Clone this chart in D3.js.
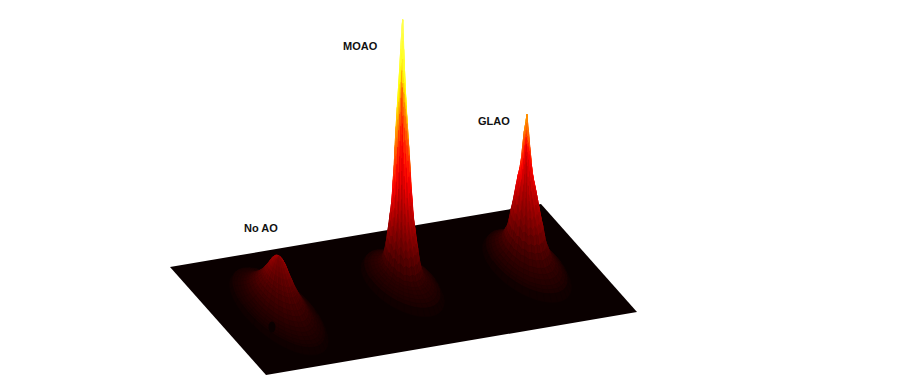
<!DOCTYPE html>
<meta charset="utf-8">
<style>
body {
  margin: 0;
  background: #fff;
}
html {
  overflow: hidden;
}
text.label {
  font-family: "Liberation Sans", Arial, sans-serif;
  font-size: 11px;
  font-weight: bold;
  fill: #111;
}
</style>
<body>
<script src="https://cdn.jsdelivr.net/npm/d3@7"></script>
<script>
// peak names and where they sit on the floor
var peakNames = ["No AO", "MOAO", "GLAO"];
var peakX = [92, 292, 480];
var peakY = [66, 59, 63];
var peakDepth = [1, 0.78, 0.82];
var peakRidge = [0, 1, 0.7];
var labelX = [244, 343, 478];
var labelY = [232, 50, 125];

// radial profiles: radius, height
var noAoRadius = [0, 2, 4, 7, 9, 11, 14, 16, 18, 21, 24, 27, 30, 33, 36, 39, 42, 45, 47, 50];
var noAoHeight = [56, 55.5, 54, 50, 46, 42, 37, 33, 30, 26, 22, 19, 16, 13, 11, 9, 7.5, 6, 5, 0];
var moaoRadius = [0, 1.2, 2.2, 3.4, 4.8, 6.2, 7.6, 8.8, 9.8, 11, 12, 13, 14.5, 16, 17.5, 19, 21, 23, 26, 29, 33, 37, 40, 44, 48];
var moaoHeight = [265, 250, 235, 215, 195, 175, 155, 135, 115, 100, 85, 75, 65, 54, 45, 35, 26, 20, 16, 14, 12, 10, 8, 6, 0];
var glaoRadius = [0, 1.2, 3, 4.8, 6, 8, 10, 12, 14, 16, 18, 20, 22, 25, 28, 32, 36, 40, 43, 46, 50];
var glaoHeight = [153, 145, 135, 120, 108, 96, 88, 78, 68, 58, 50, 40, 32, 26, 20, 16, 13, 10, 8, 6, 0];

var peakRadius = [noAoRadius, moaoRadius, glaoRadius];
var peakHeight = [noAoHeight, moaoHeight, glaoHeight];

// brightness of each wedge around a peak, starting at +x and going toward the viewer
var wedgeShade = [1.05, 1.08, 1.1, 1.12, 1.12, 1.0, 0.96, 0.88, 0.96, 0.82, 0.9, 0.78, 0.86, 0.74, 0.84, 0.78, 0.9, 0.88,
                  0.98, 1.0, 1.08, 1.1, 1.14, 1.12, 1.1, 1.05, 1.03, 1.0, 1.04, 1.0, 1.05, 1.02, 1.06, 1.04, 1.05, 1.05];
// how far each spoke falls short of the full peak height, same order
var spokeLift = [0.95, 0.9, 0.85, 0.8, 0.8, 0.74, 0.8, 0.68, 0.76, 0.55, 0.7, 0.5, 0.62, 0.42, 0.66, 0.5, 0.78, 0.62,
                 0.85, 0.78, 0.92, 0.88, 1, 1, 1, 1, 1, 1, 1, 1, 1, 1, 1, 1, 1, 1];

// dark dent on the No AO skirt
var dentX = [65.5];
var dentY = [79.6];

var width = 897, height = 385;

var svg = d3.select("body").append("svg").attr("width", width).attr("height", height);

var x = d3.scaleLinear().domain([0, 575]).range([0, 1]);
var y = d3.scaleLinear().domain([0, 128]).range([0, 1]);
var z = d3.scaleLinear().domain([0, 265]).range([0, 265]);

// MATLAB hot, with the white end pushed out so the tip stays yellow
var hot = d3.scaleLinear()
    .domain([0, 100, 200, 420])
    .range(["#0a0000", "#ff0000", "#ffff00", "#ffffff"])
    .clamp(true);

function floorPoint(a, b) {
    var u = x(a), v = y(b);
    return [170 + 371 * u + 96 * v, 267 - 63 * u + 108 * v];
}

function project(a, b, c) {
    var p = floorPoint(a, b);
    return [p[0], p[1] - z(c)];
}

var line = d3.line();

svg.append("path")
    .attr("d", line([floorPoint(0, 0), floorPoint(575, 0), floorPoint(575, 128), floorPoint(0, 128)]) + "Z")
    .attr("fill", "#0a0000");

var quads = [];
var n = wedgeShade.length;

peakNames.forEach(function(name, k) {
    var radius = peakRadius[k], h = peakHeight[k], rmax = d3.max(radius);
    function rim(r, i) {
        var a = i * 2 * Math.PI / n;
        return [peakX[k] + r * Math.cos(a), peakY[k] + r * peakDepth[k] * Math.sin(a)];
    }
    // ridges only matter up the spike, the skirt stays round
    function level(j, i) {
        var fade = Math.pow(1 - radius[j] / rmax, 2);
        return h[j] * (1 - (1 - spokeLift[i % n]) * peakRidge[k] * fade);
    }
    for (var j = 0; j < radius.length - 1; j++) {
        for (var i = 0; i < n; i++) {
            var a = rim(radius[j], i), b = rim(radius[j], i + 1), c = rim(radius[j + 1], i + 1), d = rim(radius[j + 1], i);
            var la = level(j, i), lb = level(j, i + 1), lc = level(j + 1, i + 1), ld = level(j + 1, i);
            var mid = rim((radius[j] + radius[j + 1]) / 2, i + 0.5);
            var shade = 1 - (1 - wedgeShade[i]) * (1 - radius[j] / rmax);
            quads.push({
                pts: [project(a[0], a[1], la), project(b[0], b[1], lb), project(c[0], c[1], lc), project(d[0], d[1], ld)],
                value: (la + lb + lc + ld) / 4 * shade,
                depth: floorPoint(mid[0], mid[1])[1]
            });
        }
    }
});

quads.sort(function(p, q) { return p.depth - q.depth; });

svg.append("g").selectAll("path")
    .data(quads)
    .enter().append("path")
    .attr("d", function(d) { return line(d.pts) + "Z"; })
    .attr("fill", function(d) { return hot(d.value); })
    .attr("stroke", function(d) { return hot(d.value); })
    .attr("stroke-width", 0.5)
    .attr("stroke-linejoin", "round");

svg.selectAll("ellipse.dent")
    .data(dentX)
    .enter().append("ellipse")
    .attr("class", "dent")
    .attr("cx", function(d, i) { return floorPoint(d, dentY[i])[0]; })
    .attr("cy", function(d, i) { return floorPoint(d, dentY[i])[1]; })
    .attr("rx", 3.5)
    .attr("ry", 5.5)
    .attr("fill", "#0a0000");

svg.selectAll("text.label")
    .data(peakNames)
    .enter().append("text")
    .attr("class", "label")
    .attr("x", function(d, i) { return labelX[i]; })
    .attr("y", function(d, i) { return labelY[i]; })
    .text(function(d) { return d; });
</script>
</body>
